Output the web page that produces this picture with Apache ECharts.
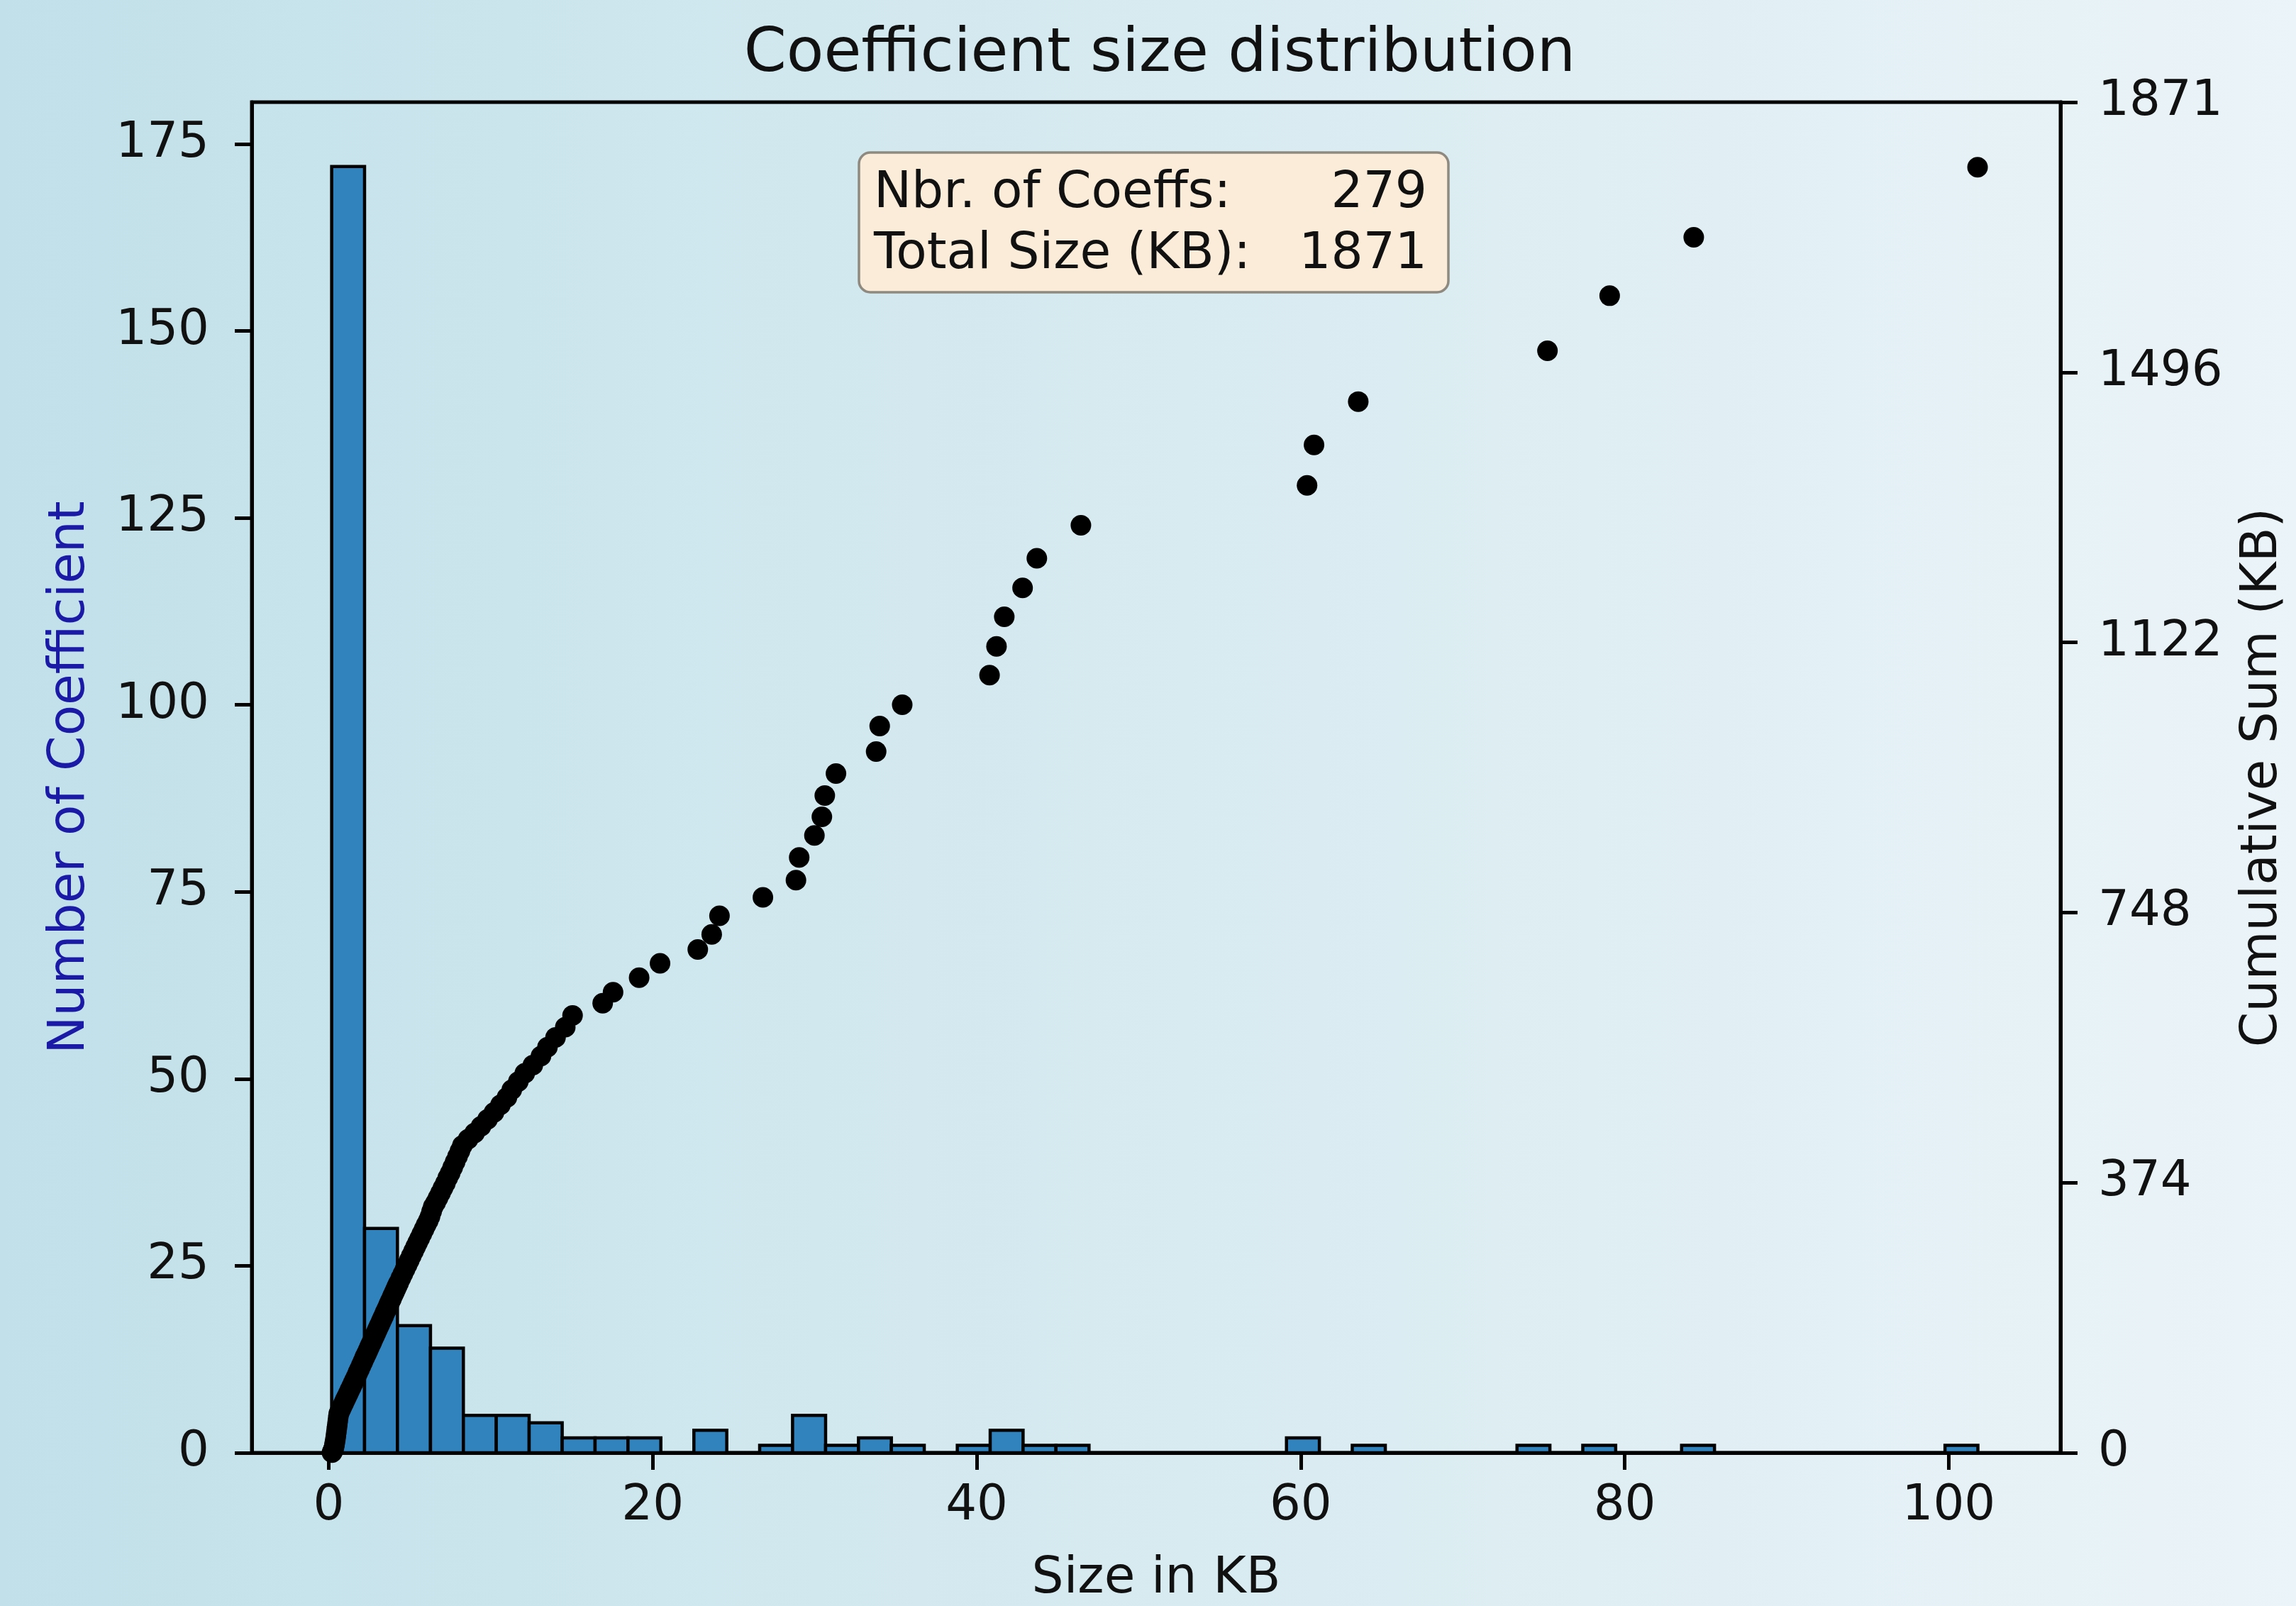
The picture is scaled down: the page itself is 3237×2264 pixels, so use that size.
<!DOCTYPE html>
<html>
<head>
<meta charset="utf-8">
<script src="https://cdn.jsdelivr.net/npm/echarts@6/dist/echarts.min.js"></script>
<style>
html,body{margin:0;padding:0;width:3237px;height:2264px;overflow:hidden;
background:linear-gradient(90deg,#c1e0e9 0%,#d3e9ef 40%,#e1eff4 75%,#ebf4f8 100%);}
#c{width:3237px;height:2264px;}
</style>
</head>
<body>
<div id="c"></div>
<script>
// ---------------- data ----------------
// histogram bin edges (KB) and counts per bin
const binEdgesKB = [0.18,2.21,4.24,6.28,8.31,10.34,12.37,14.41,16.44,18.47,
  20.50,22.54,24.57,26.60,28.63,30.67,32.70,34.73,36.76,38.80,
  40.83,42.86,44.89,46.93,48.96,50.99,53.02,55.05,57.09,59.12,
  61.15,63.18,65.22,67.25,69.28,71.31,73.35,75.38,77.41,79.44,
  81.48,83.51,85.54,87.57,89.61,91.64,93.67,95.70,97.74,99.77,101.80];
const binCounts = [172,30,17,14,5,5,4,2,2,2,
  0,3,0,1,5,1,2,1,0,1,
  3,1,1,0,0,0,0,0,0,2,
  0,1,0,0,0,0,1,0,1,0,
  0,1,0,0,0,0,0,0,0,1];

// scatter: coefficient size (KB) vs cumulative sum (KB)
const sizeKB = [
  0.20,0.24,0.28,0.32,0.35,0.38,0.41,0.44,0.47,0.50,0.53,0.56,0.59,0.62,0.68,0.75,0.83,0.92,1.01,1.10,
  1.20,1.30,1.40,1.50,1.60,1.70,1.80,1.90,2.00,2.10,2.20,
  2.27,2.35,2.43,2.51,2.59,2.67,2.75,2.83,2.91,2.99,3.07,3.15,3.23,3.31,3.39,3.47,3.55,3.63,3.71,3.79,
  3.87,3.95,4.03,4.11,4.19,4.24,
  4.32,4.45,4.58,4.71,4.84,4.97,5.10,5.23,5.36,5.49,5.62,5.75,5.88,6.01,6.14,6.25,
  6.35,6.45,6.60,6.75,6.90,7.05,7.20,7.35,7.50,7.65,7.80,7.95,8.10,8.25,
  8.60,9.00,9.40,9.80,10.20,10.60,11.00,11.30,11.70,12.10,12.60,13.10,13.50,14.00,14.60,15.05,
  16.91,17.55,19.16,20.45,22.78,23.64,24.12,26.80,28.84,29.04,29.98,30.44,30.62,31.31,33.79,34.01,35.40,
  40.79,41.22,41.70,42.83,43.71,46.43,60.39,60.82,63.55,75.23,79.07,84.26,101.78];
const cumSumKB = [
  0.3,2,4.5,7.5,11,15,19.5,24.5,30,35.5,41,46.5,52,57,60,63.5,67.5,72,76.5,81,
  86,91,96,101,106,111,116.5,121.5,127,132,137.5,
  141,145,149,153.5,157.5,161.5,166,170,174,178.5,182.5,186.5,191,195,199,203.5,207.5,211.5,216,220,
  224,228.5,232.5,236.5,241,243.5,
  247.5,254,260.5,267,273.5,280,286.5,293,299.5,306,312,318.5,325,331.5,337.5,343.5,
  351,358,364,371,378,385,392,400,407,415,423,431,439,447,
  456,465,475,485,495,506,517,528,540,552,564,577,590,604,619,636,
  654,670,691,712,732,754,781,808,833,866,898,925,956,988,1020,1057,1088,
  1131,1173,1216,1258,1301,1349,1407,1466,1529,1603,1683,1768,1870];

// axis ticks
const xTickValues = [0,20,40,60,80,100];
const countTickValues = [0,25,50,75,100,125,150,175];
const cumTickLabels = ['0','374','748','1122','1496','1871'];
const cumAxisMax = 1964.55;

// info box
const statsLabels = ['Nbr. of Coeffs:', 'Total Size (KB):'];
const statsValues = ['279', '1871'];

// ---------------- chart ----------------
const FONT = "'DejaVu Sans', sans-serif";
const TXT = '#111111';
const cumTickPositions = cumTickLabels.map((_, i) => i * cumAxisMax / (cumTickLabels.length - 1));

const chart = echarts.init(document.getElementById('c'), null, {renderer: 'canvas', width: 3237, height: 2264});

const axisLineStyle = {color: '#000', width: 5};

const option = {
  animation: false,
  backgroundColor: new echarts.graphic.LinearGradient(0, 0, 1, 0, [
    {offset: 0, color: '#c1e0e9'},
    {offset: 0.4, color: '#d3e9ef'},
    {offset: 0.75, color: '#e1eff4'},
    {offset: 1, color: '#ebf4f8'}
  ]),
  title: {
    text: 'Coefficient size distribution',
    left: 1630,
    top: 30,
    textAlign: 'center',
    textStyle: {fontFamily: FONT, fontSize: 86, fontWeight: 'normal', color: TXT}
  },
  grid: {
    left: 355, top: 144, width: 2550, height: 1904,
    containLabel: false, outerBoundsMode: 'none',
    show: true, borderColor: '#000', borderWidth: 5, backgroundColor: 'transparent'
  },
  xAxis: {
    type: 'value', min: -4.75, max: 106.9,
    splitLine: {show: false},
    axisLine: {show: true, onZero: false, lineStyle: axisLineStyle},
    axisTick: {show: true, length: 24, inside: false, customValues: xTickValues, lineStyle: {color: '#000', width: 5}},
    axisLabel: {customValues: xTickValues, margin: 42, fontFamily: FONT, fontSize: 69, color: TXT},
    name: 'Size in KB', nameLocation: 'middle', nameGap: 143,
    nameTextStyle: {fontFamily: FONT, fontSize: 71, color: TXT}
  },
  yAxis: [
    {
      type: 'value', position: 'left', min: 0, max: 180.6,
      splitLine: {show: false},
      axisLine: {show: true, onZero: false, lineStyle: axisLineStyle},
      axisTick: {show: true, length: 24, customValues: countTickValues, lineStyle: {color: '#000', width: 5}},
      axisLabel: {customValues: countTickValues, margin: 60, fontFamily: FONT, fontSize: 69, color: TXT},
      name: 'Number of Coefficient', nameLocation: 'middle', nameRotate: 90, nameGap: 220,
      nameTextStyle: {fontFamily: FONT, fontSize: 71, color: '#1a1aa6'}
    },
    {
      type: 'value', position: 'right', min: 0, max: cumAxisMax,
      splitLine: {show: false},
      axisLine: {show: true, onZero: false, lineStyle: axisLineStyle},
      axisTick: {show: true, length: 24, customValues: cumTickPositions, lineStyle: {color: '#000', width: 5}},
      axisLabel: {
        customValues: cumTickPositions, margin: 53, fontFamily: FONT, fontSize: 69, color: TXT,
        formatter: v => cumTickLabels[Math.round(v / cumAxisMax * (cumTickLabels.length - 1))]
      },
      name: 'Cumulative Sum (KB)', nameLocation: 'middle', nameRotate: 90, nameGap: 250,
      nameTextStyle: {fontFamily: FONT, fontSize: 71, color: TXT}
    }
  ],
  series: [
    {
      type: 'custom',
      name: 'histogram',
      xAxisIndex: 0, yAxisIndex: 0,
      z: 2,
      encode: {x: [0, 1], y: 2},
      data: binCounts.map((c, i) => [binEdgesKB[i], binEdgesKB[i + 1], c]),
      renderItem: (params, api) => {
        const p0 = api.coord([api.value(0), api.value(2)]);
        const p1 = api.coord([api.value(1), 0]);
        return {
          type: 'rect',
          shape: {x: p0[0], y: p0[1], width: p1[0] - p0[0], height: p1[1] - p0[1]},
          style: {fill: '#3183bd', stroke: '#000', lineWidth: 4.5}
        };
      }
    },
    {
      type: 'scatter',
      name: 'cumulative',
      xAxisIndex: 0, yAxisIndex: 1,
      z: 3,
      clip: true,
      symbol: 'circle',
      symbolSize: 29,
      itemStyle: {color: '#000', opacity: 1},
      emphasis: {disabled: true},
      data: sizeKB.map((x, i) => [x, cumSumKB[i]])
    }
  ],
  graphic: [
    {
      type: 'rect', z: 100,
      shape: {x: 1211, y: 215, width: 831, height: 197, r: 16},
      style: {fill: '#faecd8', stroke: '#8e8a80', lineWidth: 3.5}
    },
    {type: 'text', z: 101, x: 1232, y: 274,
      style: {text: statsLabels[0], fontFamily: FONT, fontSize: 71, fill: TXT, align: 'left', verticalAlign: 'middle'}},
    {type: 'text', z: 101, x: 2012, y: 274,
      style: {text: statsValues[0], fontFamily: FONT, fontSize: 71, fill: TXT, align: 'right', verticalAlign: 'middle'}},
    {type: 'text', z: 101, x: 1232, y: 360,
      style: {text: statsLabels[1], fontFamily: FONT, fontSize: 71, fill: TXT, align: 'left', verticalAlign: 'middle'}},
    {type: 'text', z: 101, x: 2012, y: 360,
      style: {text: statsValues[1], fontFamily: FONT, fontSize: 71, fill: TXT, align: 'right', verticalAlign: 'middle'}}
  ]
};

chart.setOption(option);
</script>
</body>
</html>
